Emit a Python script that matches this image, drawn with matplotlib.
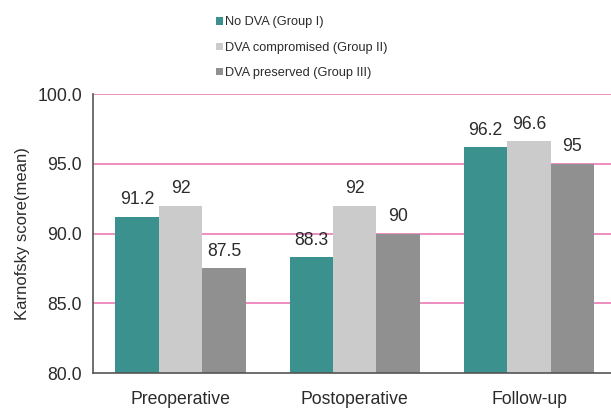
import matplotlib
matplotlib.use("Agg")
import matplotlib.pyplot as plt
import numpy as np

plt.rcParams['font.family'] = ['Liberation Sans', 'DejaVu Sans']

categories = ["Preoperative", "Postoperative", "Follow-up"]
series_names = ["No DVA (Group I)", "DVA compromised (Group II)", "DVA preserved (Group III)"]
group1 = [91.2, 88.3, 96.2]
group2 = [92, 92, 96.6]
group3 = [87.5, 90, 95]
series_values = [group1, group2, group3]
value_labels = [["91.2", "88.3", "96.2"], ["92", "92", "96.6"], ["87.5", "90", "95"]]
yticks = [80.0, 85.0, 90.0, 95.0, 100.0]

colors = ["#3a918e", "#cbcbcb", "#909090"]
grid_color = "#ec7ab8"
text_color = "#2b2b2b"

fig = plt.figure(figsize=(6.11, 4.11), dpi=100)
ax = fig.add_axes([93 / 611, 38 / 411, 518 / 611, 279 / 411])

x = np.arange(len(categories))
width = 0.249
for i, (vals, name, col, labs) in enumerate(zip(series_values, series_names, colors, value_labels)):
    bars = ax.bar(x + (i - 1) * width, [v - 80 for v in vals], width, bottom=80,
                  color=col, label=name, zorder=3)
    ax.bar_label(bars, labels=labs, padding=6, fontsize=12.7, color=text_color)

ax.set_ylim(80, 100)
ax.set_xlim(-0.502, 2.47)
ax.set_yticks(yticks)
ax.set_yticklabels([f"{t:.1f}" for t in yticks])
ax.set_xticks(x)
ax.set_xticklabels(categories)
for t in yticks[1:]:
    ax.axhline(t, color=grid_color, lw=1.2, zorder=1)

ax.tick_params(axis='both', length=0, labelsize=12.7, colors=text_color)
ax.tick_params(axis='y', pad=8)
ax.tick_params(axis='x', pad=13)
ax.set_ylabel("Karnofsky score(mean)", fontsize=12, color=text_color, labelpad=5)

for s in ["top", "right"]:
    ax.spines[s].set_visible(False)
for s in ["left", "bottom"]:
    ax.spines[s].set_color("#555555")
    ax.spines[s].set_linewidth(1.2)
    ax.spines[s].set_zorder(4)

fig.legend(loc="upper left", bbox_to_anchor=(205 / 611, 1 - 5 / 411), frameon=False,
           fontsize=9.2, handlelength=0.5, handleheight=0.5, handletextpad=0.2,
           labelspacing=1.05, labelcolor=text_color)

fig.savefig("out.png", dpi=100)
